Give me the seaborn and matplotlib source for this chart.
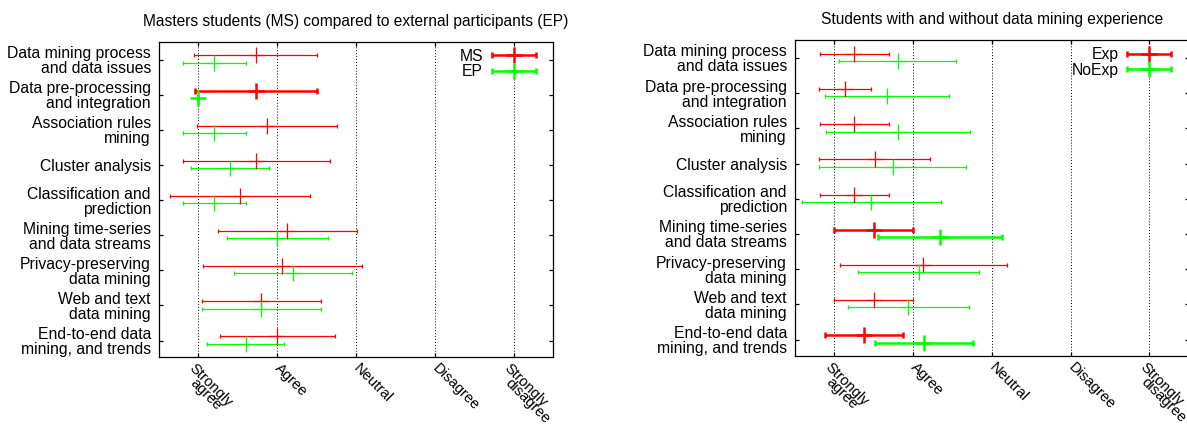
import numpy as np
import pandas as pd
import matplotlib
matplotlib.use("Agg")
import matplotlib.pyplot as plt
import seaborn as sns
from matplotlib.transforms import ScaledTranslation, blended_transform_factory
from matplotlib.legend_handler import HandlerErrorbar
from matplotlib.container import ErrorbarContainer

# ---------------- data ----------------
topics = [
    "Data mining process\nand data issues",
    "Data pre-processing\nand integration",
    "Association rules\nmining",
    "Cluster analysis",
    "Classification and\nprediction",
    "Mining time-series\nand data streams",
    "Privacy-preserving\ndata mining",
    "Web and text\ndata mining",
    "End-to-end data\nmining, and trends",
]
scale_pos = [1, 2, 3, 4, 5]
scale_first = ["Strongly", "Agree", "Neutral", "Disagree", "Strongly"]
scale_second = ["agree", "", "", "", "disagree"]

left_title = "Masters students (MS) compared to external participants (EP)"
right_title = "Students with and without data mining experience"

# left panel: MS vs EP (mean, lower end, upper end)
ms_mean = [1.73, 1.73, 1.87, 1.73, 1.53, 2.13, 2.06, 1.80, 2.00]
ms_low = [0.95, 0.96, 0.98, 0.80, 0.64, 1.25, 1.06, 1.05, 1.27]
ms_high = [2.50, 2.50, 2.76, 2.67, 2.42, 3.01, 3.07, 2.55, 2.73]
ep_mean = [1.20, 1.00, 1.20, 1.40, 1.20, 2.00, 2.20, 1.80, 1.60]
ep_low = [0.80, 1.00, 0.80, 0.90, 0.80, 1.36, 1.45, 1.05, 1.11]
ep_high = [1.60, 1.00, 1.60, 1.89, 1.60, 2.64, 2.95, 2.55, 2.09]
left_bold = [False, True, False, False, False, False, False, False, False]

# right panel: Exp vs NoExp
exp_mean = [1.25, 1.13, 1.25, 1.51, 1.25, 1.50, 2.13, 1.50, 1.38]
exp_low = [0.82, 0.80, 0.82, 0.80, 0.82, 1.00, 1.07, 1.00, 0.88]
exp_high = [1.69, 1.46, 1.69, 2.21, 1.69, 2.00, 3.19, 2.00, 1.87]
noexp_mean = [1.81, 1.67, 1.81, 1.74, 1.47, 2.34, 2.07, 1.94, 2.14]
noexp_low = [1.06, 0.88, 0.89, 0.81, 0.585, 1.55, 1.30, 1.17, 1.52]
noexp_high = [2.55, 2.46, 2.72, 2.67, 2.36, 3.13, 2.84, 2.71, 2.76]
right_bold = [False, False, False, False, False, True, False, False, True]

RED = "#ff0000"
GREEN = "#00ff00"

# ---------------- style ----------------
sns.set_theme(style="ticks")
plt.rcParams["font.family"] = ["Liberation Sans", "DejaVu Sans"]
plt.rcParams["axes.linewidth"] = 0.9
plt.rcParams["text.color"] = "black"
plt.rcParams["axes.edgecolor"] = "black"
plt.rcParams["xtick.color"] = "black"
plt.rcParams["ytick.color"] = "black"

FS = 11.3
XFS = 10.7
XPAD = 6.5  # pt, x tick label pad
SHIFT = -5.0  # pt, left shift of two-line scale labels

fig = plt.figure(figsize=(11.87, 4.28), dpi=100)
W, H = 1187.0, 428.0
ax_l = fig.add_axes([159 / W, 1 - 356.7 / H, 394 / W, (356.7 - 41.7) / H])
ax_r = fig.add_axes([795 / W, 1 - 355.7 / H, 393.7 / W, (355.7 - 40.0) / H])


def draw_series(ax, mean, low, high, bold, color, offset):
    df = pd.DataFrame({
        "mean": mean, "low": low, "high": high,
        "row": np.arange(1, len(mean) + 1) + offset,
        "bold": bold,
    })
    for b, lw, cs in [(False, 0.9, 1.5), (True, 1.8, 2.2)]:
        sub = df[df["bold"] == b]
        if sub.empty:
            continue
        ax.errorbar(sub["mean"], sub["row"],
                    xerr=[sub["mean"] - sub["low"], sub["high"] - sub["mean"]],
                    fmt="none", ecolor=color, elinewidth=lw, capsize=cs,
                    capthick=lw, zorder=3)
        sns.scatterplot(data=sub, x="mean", y="row", marker="+", s=144,
                        color=color, edgecolor=color, linewidth=lw, ax=ax,
                        legend=False, zorder=4)


def style_panel(ax, title, labels):
    ax.set_xlim(0.5, 5.5)
    ax.set_ylim(9.46, 0.49)
    ax.set_yticks(range(1, len(topics) + 1))
    ax.set_yticklabels(topics, fontsize=FS, linespacing=1.0)
    ax.set_xticks(scale_pos)
    ax.set_xticklabels(scale_first, rotation=-45, ha="left", va="center",
                       rotation_mode="anchor", fontsize=XFS)
    ax.tick_params(axis="y", direction="in", left=True, right=True,
                   length=3, width=0.9, pad=5.8)
    ax.tick_params(axis="x", direction="in", bottom=True, top=True,
                   length=3, width=0.9, pad=XPAD)
    ax.set_xlabel("")
    ax.set_ylabel("")
    ax.xaxis.grid(True, linestyle=(0, (1, 2)), color="black", linewidth=0.7)
    ax.yaxis.grid(False)
    for s in ax.spines.values():
        s.set_visible(True)
        s.set_linewidth(0.9)
    ax.set_title(title, fontsize=11.2, pad=11.3)
    # two-line scale labels: first line shifted left, second line straight below
    shift = ScaledTranslation(SHIFT / 72, 0, fig.dpi_scale_trans)
    for lab, txt in zip(ax.get_xticklabels(), scale_second):
        if txt:
            lab.set_transform(lab.get_transform() + shift)
    trans = blended_transform_factory(ax.transData, ax.transAxes) + \
        ScaledTranslation((SHIFT + 0.5) / 72, -(XPAD + 10.8) / 72,
                          fig.dpi_scale_trans)
    for xp, txt in zip(scale_pos, scale_second):
        if txt:
            ax.text(xp, 0, txt, transform=trans, rotation=-45, ha="left",
                    va="center", rotation_mode="anchor", fontsize=XFS)
    # legend
    handles = []
    for lab, col in labels:
        h = ax.errorbar([np.nan], [np.nan], xerr=[[0.1], [0.1]], fmt="+",
                        color=col, ecolor=col, ms=11, mew=1.8,
                        elinewidth=1.8, capsize=2.2, capthick=1.8, label=lab)
        handles.append(h)
    ax.legend(handles=handles, labels=[l for l, _ in labels],
              handler_map={ErrorbarContainer: HandlerErrorbar(xerr_size=1.40)},
              markerfirst=False, frameon=False, loc="upper right",
              bbox_to_anchor=(1 - 17.3 / 394, 1 - 7.0 / 315),
              borderpad=0, borderaxespad=0, handlelength=2.8,
              handletextpad=0.55, labelspacing=0.05, fontsize=FS)


draw_series(ax_l, ms_mean, ms_low, ms_high, left_bold, RED, -0.12)
draw_series(ax_l, ep_mean, ep_low, ep_high, left_bold, GREEN, 0.09)
style_panel(ax_l, left_title, [("MS", RED), ("EP", GREEN)])

draw_series(ax_r, exp_mean, exp_low, exp_high, right_bold, RED, -0.12)
draw_series(ax_r, noexp_mean, noexp_low, noexp_high, right_bold, GREEN, 0.09)
style_panel(ax_r, right_title, [("Exp", RED), ("NoExp", GREEN)])

fig.savefig("out.png", dpi=100)
